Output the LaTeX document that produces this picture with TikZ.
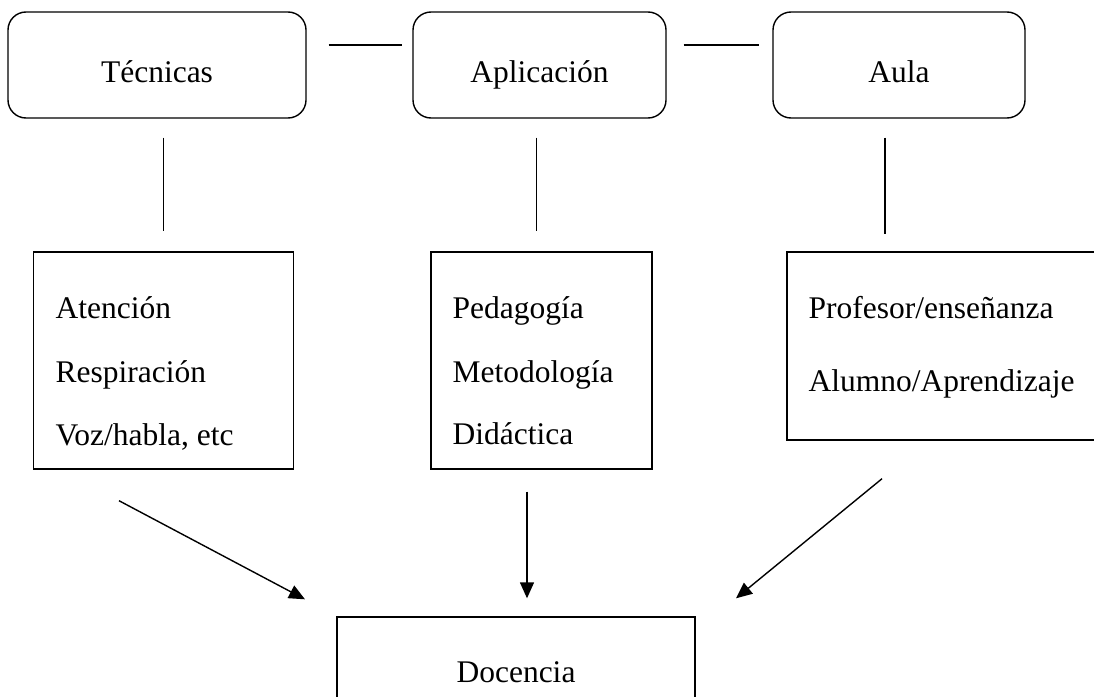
\documentclass[tikz,border=0pt]{standalone}
\usepackage{fontspec}
\setmainfont{Liberation Serif}
\usetikzlibrary{arrows.meta,calc}
\begin{document}
\begin{tikzpicture}[x=1pt,y=-1pt, line width=1.4pt,
  font=\fontsize{31.5}{38}\selectfont,
  rbox/.style={draw, rounded corners=18pt, inner sep=0pt, minimum height=106pt, text height=34pt, text depth=0pt},
  sbox/.style={draw, inner sep=0pt},
  txt/.style={anchor=base west, inner sep=0pt},
  link/.style={line width=1.4pt},
  arr/.style={line width=1.4pt, -{Triangle[length=16pt,width=14pt]}}]
\useasboundingbox (0,0) rectangle (1094,696);
\fill[white] (0,0) rectangle (1094,696);

% top rounded boxes
\node[rbox, minimum width=298pt] (tec) at (157,65) {Técnicas};
\node[rbox, minimum width=253pt] (apl) at (539.5,65) {Aplicación};
\node[rbox, minimum width=252pt] (aula) at (899,65) {Aula};

% middle boxes
\node[sbox, minimum width=260pt, minimum height=217pt] (b1) at (163.5,360.5) {};
\node[sbox, minimum width=221pt, minimum height=217pt] (b2) at (541.5,360.5) {};
\node[sbox, minimum width=340pt, minimum height=188pt] (b3) at (957,346) {};

% bottom box
\node[sbox, minimum width=358pt, minimum height=110pt, text height=20pt, text depth=0pt] (doc) at (516,672) {Docencia};

% texts in middle boxes
\node[txt] (t1) at (55,318) {Atención};
\node[txt] (t2) at (55,382) {Respiración};
\node[txt] (t3) at (55,445) {Voz/habla, etc};
\node[txt] (p1) at (452,318) {Pedagogía};
\node[txt] (p2) at (452,382) {Metodología};
\node[txt] (p3) at (452,444) {Didáctica};
\node[txt] (r1) at (808,318) {Profesor/enseñanza};
\node[txt] (r2) at (808,391) {Alumno/Aprendizaje};

% horizontal links
\draw[link] ($(tec.east)+(22,-20)$) -- ($(apl.west)+(-10,-20)$);
\draw[link] ($(apl.east)+(17,-20)$) -- ($(aula.west)+(-13,-20)$);

% vertical links
\draw[link] ($(tec.south)+(6.5,19)$) -- ($(b1.north)+(0,-20)$);
\draw[link] ($(apl.south)+(-3,19)$) -- ($(b2.north)+(-5,-20)$);
\draw[link] ($(aula.south)+(-14,19)$) -- ($(b3.north)+(-72,-17)$);

% arrows
\draw[arr] ($(b1.south)+(-44.5,31)$) -- ($(doc.north)+(-211,-17)$);
\draw[arr] ($(b2.south)+(-14.5,22)$) -- ($(doc.north)+(11,-18)$);
\draw[arr] ($(b3.south)+(-75,38)$) -- ($(doc.north)+(220,-18)$);
\end{tikzpicture}
\end{document}
